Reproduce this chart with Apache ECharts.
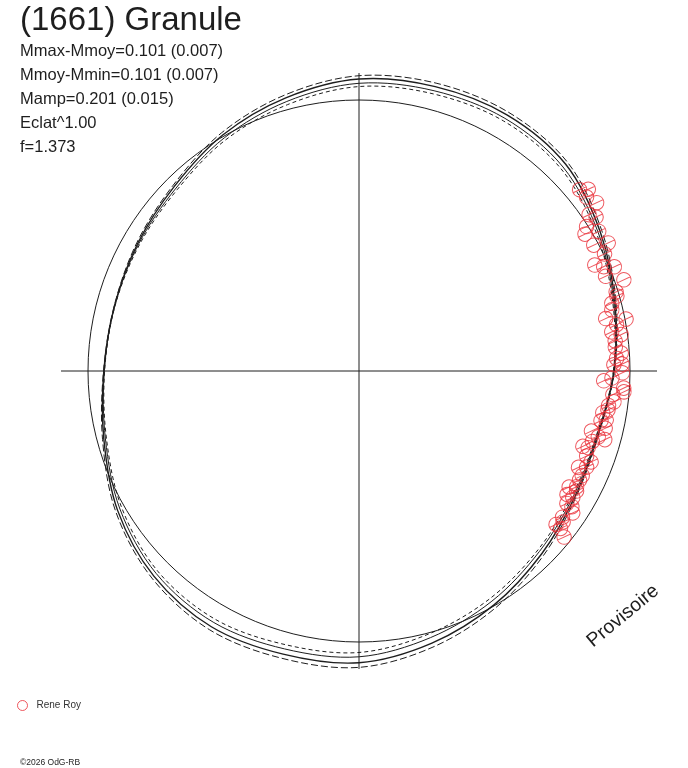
<!DOCTYPE html>
<html>
<head>
<meta charset="utf-8">
<script src="https://cdn.jsdelivr.net/npm/echarts@6/dist/echarts.min.js"></script>
<style>
html,body{margin:0;padding:0;background:#fff;}
#chart{width:688px;height:768px;}
</style>
</head>
<body>
<div id="chart"></div>
<script>
// ---- data (radius: 1 = mean-brightness circle, angle in degrees, 0 = right, CCW) ----
const titleText = '(1661) Granule';
const infoLines = ['Mmax-Mmoy=0.101 (0.007)', 'Mmoy-Mmin=0.101 (0.007)', 'Mamp=0.201 (0.015)', 'Eclat^1.00', 'f=1.373'];
const observerName = 'Rene Roy';
const copyrightText = '\u00a92026 OdG-RB';
const watermarkText = 'Provisoire';

// closed curves, one radius per angle (the loop closes back on the first value)
const curveAngles = [0, 15, 30, 45, 60, 75, 90, 105, 120, 135, 150, 165, 180, 195, 210, 225, 240, 255, 270, 285, 300, 315, 330, 345];
const upperDashed = [0.943, 0.982, 1.035, 1.089, 1.103, 1.100, 1.090, 1.055, 1.015, 0.970, 0.947, 0.935, 0.943, 0.980, 1.037, 1.081, 1.103, 1.098, 1.094, 1.055, 1.009, 0.963, 0.926, 0.915];
const fitA = [0.942, 0.978, 1.028, 1.079, 1.092, 1.087, 1.078, 1.044, 1.006, 0.964, 0.943, 0.934, 0.942, 0.975, 1.029, 1.071, 1.090, 1.082, 1.077, 1.040, 0.997, 0.954, 0.922, 0.913];
const fitB = [0.940, 0.974, 1.020, 1.065, 1.077, 1.071, 1.062, 1.030, 0.994, 0.955, 0.939, 0.933, 0.940, 0.969, 1.019, 1.058, 1.072, 1.062, 1.055, 1.019, 0.981, 0.942, 0.916, 0.910];
const lowerDashed = [0.939, 0.970, 1.013, 1.055, 1.066, 1.059, 1.050, 1.018, 0.985, 0.948, 0.935, 0.932, 0.939, 0.965, 1.011, 1.048, 1.059, 1.046, 1.039, 1.004, 0.969, 0.934, 0.911, 0.908];

const obsRadius = [1.054, 1.080, 1.114, 1.057, 1.075, 1.027, 1.043, 0.995, 0.975, 1.024,
  0.983, 1.034, 1.004, 0.954, 0.982, 1.018, 0.975, 1.034, 0.993, 0.991,
  0.966, 0.960, 0.931, 1.004, 0.966, 0.944, 0.977, 0.952, 0.950, 0.970,
  0.952, 0.941, 0.971, 0.972, 0.904, 0.934, 0.979, 0.981, 0.941, 0.948,
  0.930, 0.930, 0.913, 0.930, 0.912, 0.933, 0.886, 0.916, 0.942, 0.900,
  0.872, 0.892, 0.897, 0.920, 0.885, 0.912, 0.910, 0.908, 0.886, 0.910,
  0.917, 0.893, 0.917, 0.910, 0.932, 0.947, 0.925, 0.937, 0.922, 0.944, 0.974];
const obsAngle = [39.4, 38.4, 36.3, 37.4, 35.3, 34.2, 33.0, 32.4, 31.2, 30.2,
  28.2, 27.2, 25.5, 24.2, 23.1, 22.2, 21.0, 19.0, 17.1, 16.2,
  15.0, 13.6, 12.0, 11.0, 10.2, 8.8, 7.9, 6.7, 5.3, 3.9,
  2.8, 1.4, 1.5, 359.6, 357.7, 358.4, 356.3, 355.5, 354.7, 353.1,
  352.1, 351.1, 350.3, 348.8, 348.4, 346.9, 345.5, 344.6, 344.4, 343.2,
  341.4, 341.5, 339.5, 338.6, 336.3, 337.1, 334.9, 333.7, 331.1, 332.0,
  331.1, 329.3, 329.4, 327.5, 327.5, 326.4, 324.3, 323.5, 322.1, 322.0, 321.0];

const FONT = '"Liberation Sans", Arial, sans-serif';
const INK = '#1e1e1e';
const RED = '#ea2f38';

const chart = echarts.init(document.getElementById('chart'), null, {renderer: 'canvas'});

// custom series: closed Catmull-Rom spline through the polar points, mapped by the polar axes
function loopSeries(name, radii, lineStyle) {
  const data = curveAngles.map((a, i) => [radii[i], a]);
  return {
    name: name, type: 'custom', coordinateSystem: 'polar', polarIndex: 0, silent: true, data: data,
    renderItem: function (params, api) {
      if (params.dataIndex !== 0) return null;
      const p = data.map(d => api.coord(d));
      const n = p.length;
      let d = 'M' + p[0][0].toFixed(2) + ',' + p[0][1].toFixed(2);
      for (let i = 0; i < n; i++) {
        const p0 = p[(i - 1 + n) % n], p1 = p[i], p2 = p[(i + 1) % n], p3 = p[(i + 2) % n];
        const c1x = p1[0] + (p2[0] - p0[0]) / 6, c1y = p1[1] + (p2[1] - p0[1]) / 6;
        const c2x = p2[0] - (p3[0] - p1[0]) / 6, c2y = p2[1] - (p3[1] - p1[1]) / 6;
        d += 'C' + c1x.toFixed(2) + ',' + c1y.toFixed(2) + ' ' + c2x.toFixed(2) + ',' + c2y.toFixed(2) + ' ' + p2[0].toFixed(2) + ',' + p2[1].toFixed(2);
      }
      d += 'Z';
      return {
        type: 'path', shape: {pathData: d},
        style: Object.assign({fill: 'none', stroke: INK}, lineStyle)
      };
    }
  };
}

const obsData = obsRadius.map((r, i) => [r, obsAngle[i]]);
const hiddenAxis = {axisLine: {show: false}, axisTick: {show: false}, axisLabel: {show: false}, splitLine: {show: false}};

const graphics = [
  {type: 'text', x: 20, y: 20.6, silent: true,
   style: {text: titleText, fontSize: 33, fontFamily: FONT, fill: INK, align: 'left', verticalAlign: 'middle'}}
];
infoLines.forEach((t, i) => {
  graphics.push({type: 'text', x: 20, y: 51.5 + i * 24, silent: true,
    style: {text: t, fontSize: 16.5, fontFamily: FONT, fill: INK, align: 'left', verticalAlign: 'middle'}});
});
graphics.push({type: 'text', x: 623, y: 616, rotation: 39.5 * Math.PI / 180, silent: true,
  style: {text: watermarkText, fontSize: 19.5, fontFamily: FONT, fill: INK, align: 'center', verticalAlign: 'middle'}});
graphics.push({type: 'text', x: 20, y: 763, silent: true,
  style: {text: copyrightText, fontSize: 8.5, fontFamily: FONT, fill: INK, align: 'left', verticalAlign: 'middle'}});

const option = {
  animation: false,
  backgroundColor: '#fff',
  polar: [
    {center: [359, 371], radius: 298},
    {center: [359, 371], radius: 271}
  ],
  angleAxis: [
    {polarIndex: 0, type: 'value', min: 0, max: 360, interval: 90, startAngle: 0, clockwise: false,
     axisLine: {show: false}, axisTick: {show: false}, axisLabel: {show: false},
     splitLine: {show: true, lineStyle: {color: INK, width: 1}}},
    {polarIndex: 1, type: 'value', min: 0, max: 360, interval: 90, startAngle: 0, clockwise: false,
     axisLine: {show: true, lineStyle: {color: INK, width: 1}}, axisTick: {show: false}, axisLabel: {show: false},
     splitLine: {show: false}}
  ],
  radiusAxis: [
    Object.assign({polarIndex: 0, type: 'value', min: 0, max: 1.1}, hiddenAxis),
    Object.assign({polarIndex: 1, type: 'value', min: 0, max: 1}, hiddenAxis)
  ],
  legend: {
    left: 17, top: 700, padding: 0, itemWidth: 10, itemHeight: 10,
    textStyle: {fontSize: 10, fontFamily: FONT, color: '#333', padding: [0, 0, 0, 4]},
    data: [{name: observerName, icon: 'circle', itemStyle: {color: 'rgba(0,0,0,0)', borderColor: RED, borderWidth: 1}}]
  },
  graphic: graphics,
  series: [
    loopSeries('upper', upperDashed, {lineWidth: 1, lineDash: [7, 3]}),
    loopSeries('fitA', fitA, {lineWidth: 1.4}),
    loopSeries('fitB', fitB, {lineWidth: 1}),
    loopSeries('lower', lowerDashed, {lineWidth: 1, lineDash: [4, 3]}),
    {name: observerName, type: 'scatter', coordinateSystem: 'polar', polarIndex: 0, data: obsData,
     symbol: 'path://M10,0A10,10,0,1,1,-10,0A10,10,0,1,1,10,0ZM-10,0L10,0',
     symbolSize: 14.5, symbolRotate: 25,
     itemStyle: {color: 'rgba(0,0,0,0)', borderColor: RED, borderWidth: 1}}
  ]
};
chart.setOption(option);
</script>
</body>
</html>
